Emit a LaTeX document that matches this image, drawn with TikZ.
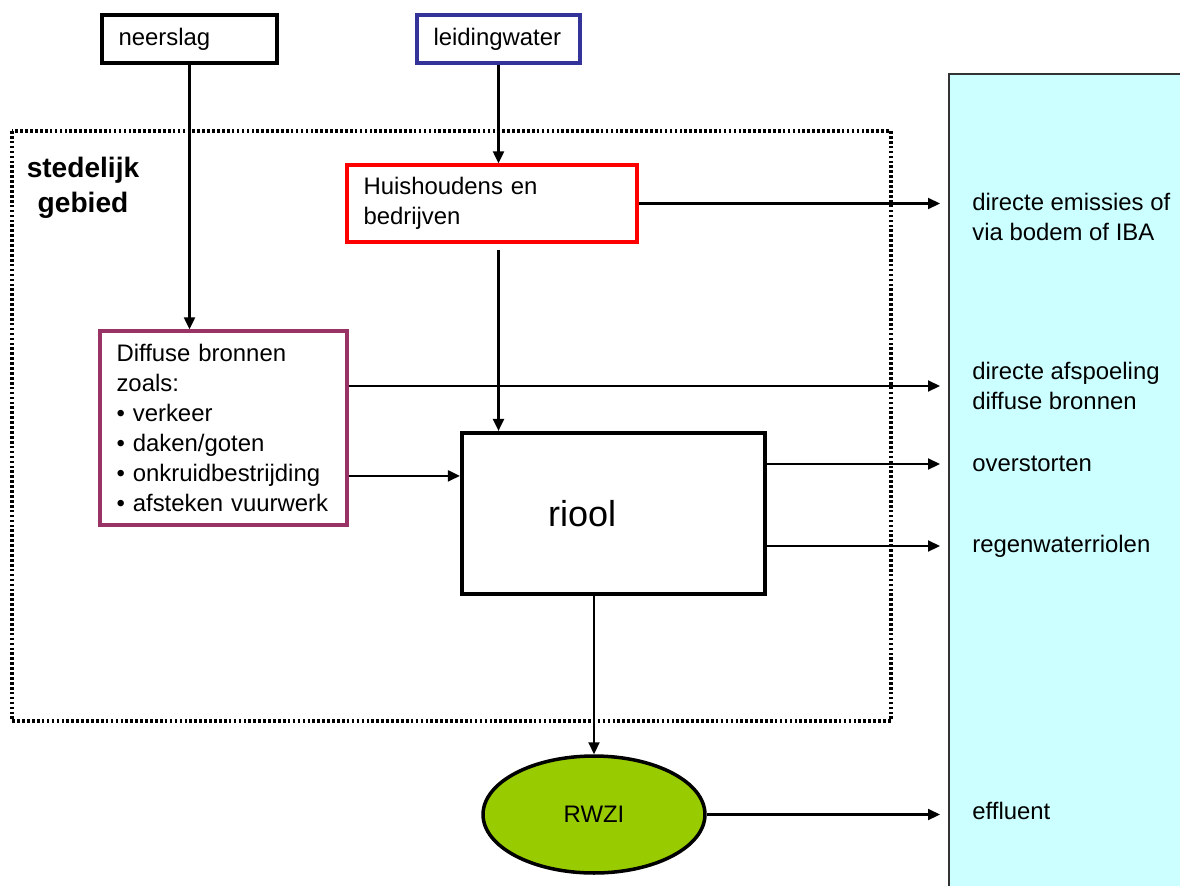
\documentclass[tikz,border=0pt]{standalone}
\usepackage{fontspec}
\setmainfont{Liberation Sans}
\usetikzlibrary{arrows.meta}
\usetikzlibrary{shapes.geometric}

\definecolor{boxRed}{HTML}{FF0000}
\definecolor{boxBlue}{HTML}{333399}
\definecolor{boxPurple}{HTML}{993366}
\definecolor{rwziGreen}{HTML}{99CC00}
\definecolor{waterCyan}{HTML}{CCFFFF}

\begin{document}
\begin{tikzpicture}[
  x=0.02cm, y=-0.02cm,
  flow/.style={draw, line width=1.2pt, -{Triangle[length=0.24cm,width=0.22cm]}},
  srcBox/.style={draw, line width=1.9pt, inner xsep=0.33cm, inner ysep=0pt, align=left, font=\fontsize{13.6}{17}\selectfont},
  outText/.style={anchor=west, inner sep=0pt, align=left, font=\fontsize{13.6}{17}\selectfont}
]
  \useasboundingbox (0,0) rectangle (1180,886);
  % receiving water
  \fill[waterCyan] (949,74) rectangle (1180,886);
  \draw[black!80, line width=0.6pt] (1180,74) -- (949,74) -- (949,886);
  \coordinate (panelEdge) at (940,0);
  % urban area
  \draw[line width=2pt, dash pattern=on 1.5pt off 1.3pt] (12,131) rectangle (891,721);
  \node[align=center, font=\bfseries\fontsize{16}{20}\selectfont] at (83,188) (area) {stedelijk\\gebied};

  % sources
  \node[srcBox, line width=2.2pt, text width=2.84cm, minimum height=0.96cm] at (189.5,39) (neerslag) {neerslag};
  \node[srcBox, draw=boxBlue, text width=2.6cm, minimum height=0.96cm] at (498.5,39) (leiding) {leidingwater};
  \node[srcBox, draw=boxRed, text width=5.14cm, minimum height=1.54cm] at (492,203.5) (huish) {Huishoudens en\\bedrijven};
  \node[srcBox, draw=boxPurple, text width=4.28cm, minimum height=3.88cm] at (223.5,428) (diffuse)
    {Diffuse bronnen\\zoals:\\• verkeer\\• daken/goten\\• onkruidbestrijding\\• afsteken vuurwerk};
  \node[srcBox, line width=2.4pt, inner xsep=1.72cm, text width=2.62cm, minimum height=3.22cm,
    font=\fontsize{20.5}{24}\selectfont] at (613.5,513.5) (riool) {riool};
  \node[draw, ellipse, fill=rwziGreen, line width=2pt, inner sep=0pt, minimum width=4.44cm, minimum height=2.34cm,
    font=\fontsize{13.6}{17}\selectfont] at (594,814.5) (rwzi) {RWZI};

  % receiving water labels
  \node[outText] at (972,217) (emis) {directe emissies of\\via bodem of IBA};
  \node[outText] at (972,386) (afsp) {directe afspoeling\\diffuse bronnen};
  \node[outText] at (972,464) (over) {overstorten};
  \node[outText] at (972,546) (regen) {regenwaterriolen};
  \node[outText] at (972,811) (effl) {effluent};

  \coordinate (rioolIn) at ([yshift=-0.9cm]riool.north west);

  \draw[flow] (neerslag.south) -- (neerslag.south |- diffuse.north);
  \draw[flow] (leiding.south) -- (leiding.south |- huish.north);
  \draw[flow, shorten <=0.12cm] (huish.south -| leiding.south) -- (riool.north -| leiding.south);
  \draw[flow] (huish.east) -- (panelEdge |- huish.east);
  \draw[flow] (diffuse.east |- afsp.west) -- (panelEdge |- afsp.west);
  \draw[flow] (diffuse.east |- rioolIn) -- (rioolIn);
  \draw[flow] (riool.east |- over.west) -- (panelEdge |- over.west);
  \draw[flow] (riool.east |- regen.west) -- (panelEdge |- regen.west);
  \draw[flow] (riool.south -| rwzi.north) -- (rwzi.north);
  \draw[flow] (rwzi.east) -- (panelEdge |- rwzi.east);
\end{tikzpicture}
\end{document}
